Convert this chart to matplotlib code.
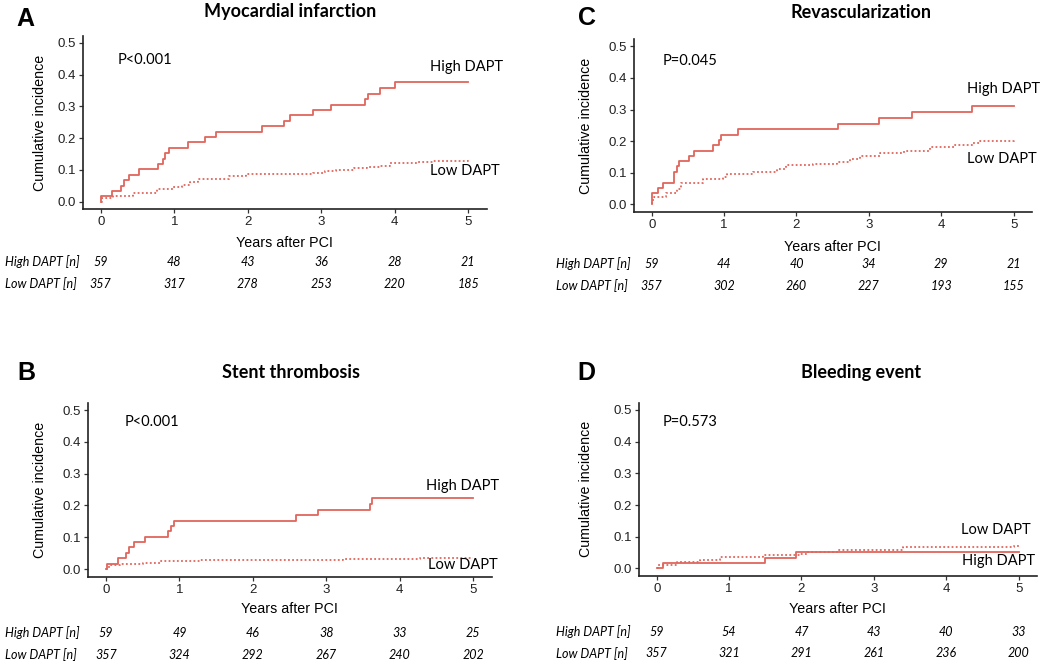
import matplotlib
matplotlib.use("Agg")
import matplotlib.pyplot as plt
from matplotlib.transforms import blended_transform_factory

# ---------------- data ----------------
titles = ["Myocardial infarction", "Revascularization", "Stent thrombosis", "Bleeding event"]
letters = ["A", "C", "B", "D"]
pvalues = ["P<0.001", "P=0.045", "P<0.001", "P=0.573"]
years_ticks = [0, 1, 2, 3, 4, 5]
yticks = [0.0, 0.1, 0.2, 0.3, 0.4, 0.5]

# A: Myocardial infarction
hiA_t = [0, 0.01, 0.16, 0.27, 0.31, 0.38, 0.52, 0.78, 0.85, 0.88, 0.93, 1.19, 1.42, 1.57,
         2.19, 2.49, 2.57, 2.89, 3.13, 3.60, 3.63, 3.80, 4.00, 5.0]
hiA_y = [0, 0.017, 0.034, 0.050, 0.068, 0.085, 0.102, 0.120, 0.136, 0.153, 0.170, 0.187, 0.204, 0.221,
         0.238, 0.255, 0.272, 0.289, 0.306, 0.323, 0.340, 0.357, 0.378, 0.378]
loA_t = [0, 0.02, 0.17, 0.44, 0.76, 0.98, 1.10, 1.21, 1.32, 1.75, 1.98, 2.89, 3.05, 3.20, 3.45,
         3.62, 3.80, 3.93, 4.30, 4.52, 5.0]
loA_y = [0, 0.012, 0.019, 0.028, 0.039, 0.046, 0.052, 0.062, 0.072, 0.080, 0.088, 0.091, 0.096, 0.101, 0.106,
         0.110, 0.114, 0.121, 0.124, 0.129, 0.131]

# C: Revascularization
hiC_t = [0, 0.01, 0.09, 0.16, 0.31, 0.35, 0.38, 0.52, 0.59, 0.84, 0.93, 0.96, 1.19, 2.58, 3.14, 3.60, 4.42, 5.0]
hiC_y = [0, 0.036, 0.051, 0.069, 0.102, 0.120, 0.136, 0.153, 0.170, 0.187, 0.204, 0.220, 0.237,
         0.254, 0.273, 0.291, 0.312, 0.312]
loC_t = [0, 0.01, 0.03, 0.20, 0.35, 0.41, 0.71, 0.99, 1.04, 1.40, 1.73, 1.86, 2.23, 2.56, 2.74, 2.88,
         3.15, 3.48, 3.84, 4.17, 4.44, 4.53, 5.0]
loC_y = [0, 0.015, 0.025, 0.036, 0.050, 0.069, 0.080, 0.088, 0.095, 0.104, 0.111, 0.124, 0.127, 0.135,
         0.143, 0.153, 0.162, 0.170, 0.183, 0.187, 0.193, 0.199, 0.204]

# B: Stent thrombosis
hiB_t = [0, 0.01, 0.16, 0.27, 0.31, 0.38, 0.53, 0.85, 0.88, 0.93, 2.58, 2.89, 3.60, 3.62, 5.0]
hiB_y = [0, 0.017, 0.034, 0.051, 0.068, 0.085, 0.102, 0.119, 0.136, 0.152, 0.170, 0.187, 0.205, 0.223, 0.223]
loB_t = [0, 0.01, 0.04, 0.19, 0.51, 0.74, 1.28, 3.23, 4.27, 5.0]
loB_y = [0, 0.004, 0.012, 0.017, 0.020, 0.025, 0.028, 0.031, 0.034, 0.034]

# D: Bleeding event
hiD_t = [0, 0.09, 1.50, 1.92, 5.0]
hiD_y = [0, 0.017, 0.034, 0.051, 0.051]
loD_t = [0, 0.02, 0.28, 0.60, 0.87, 1.47, 1.98, 2.07, 2.49, 3.40, 4.93, 5.0]
loD_y = [0, 0.010, 0.020, 0.025, 0.036, 0.041, 0.044, 0.051, 0.057, 0.067, 0.072, 0.072]

# numbers at risk
riskA_high = [59, 48, 43, 36, 28, 21]
riskA_low = [357, 317, 278, 253, 220, 185]
riskC_high = [59, 44, 40, 34, 29, 21]
riskC_low = [357, 302, 260, 227, 193, 155]
riskB_high = [59, 49, 46, 38, 33, 25]
riskB_low = [357, 324, 292, 267, 240, 202]
riskD_high = [59, 54, 47, 43, 40, 33]
riskD_low = [357, 321, 291, 261, 236, 200]

# ---------------- layout ----------------
W, H = 1050, 666
fig = plt.figure(figsize=(W / 100, H / 100), dpi=100)
RED = "#E0665C"
SANS = ["Liberation Sans", "DejaVu Sans"]
CAL = ["Lato", "DejaVu Sans"]

panels = [
    dict(rect=(82.7, 35.7, 486.7, 209.3), hi=(hiA_t, hiA_y), lo=(loA_t, loA_y),
         risk=(riskA_high, riskA_low), title_xy=(290, 12), letter_xy=(25, 19),
         ylab_x=40, xlab_y=243, risk_y=(262, 284), risk_lab_x=5,
         p_xy=(0.23, 0.447), hi_lab=(4.48, 0.425), lo_lab=(4.48, 0.097)),
    dict(rect=(634, 39, 1031.7, 212), hi=(hiC_t, hiC_y), lo=(loC_t, loC_y),
         risk=(riskC_high, riskC_low), title_xy=(860.7, 12), letter_xy=(586.7, 18),
         ylab_x=585.7, xlab_y=247, risk_y=(264, 286), risk_lab_x=555.7,
         p_xy=(0.15, 0.454), hi_lab=(4.35, 0.364), lo_lab=(4.35, 0.143)),
    dict(rect=(88, 402.7, 491.7, 576.7), hi=(hiB_t, hiB_y), lo=(loB_t, loB_y),
         risk=(riskB_high, riskB_low), title_xy=(291, 372.7), letter_xy=(26, 373),
         ylab_x=40, xlab_y=609, risk_y=(632.7, 655), risk_lab_x=5,
         p_xy=(0.25, 0.463), hi_lab=(4.35, 0.26), lo_lab=(4.38, 0.012)),
    dict(rect=(639, 402.7, 1036.7, 576), hi=(hiD_t, hiD_y), lo=(loD_t, loD_y),
         risk=(riskD_high, riskD_low), title_xy=(861.3, 372.7), letter_xy=(586.7, 373),
         ylab_x=585.7, xlab_y=609, risk_y=(631.7, 653.3), risk_lab_x=555.7,
         p_xy=(0.083, 0.463), hi_lab=(4.22, 0.022), lo_lab=(4.2, 0.122)),
]


def fx(px):
    return px / W


def fy(py):
    return 1 - py / H


for i, p in enumerate(panels):
    l, t, r, b = p["rect"]
    ax = fig.add_axes([fx(l), fy(b), (r - l) / W, (b - t) / H])
    ax.step(p["hi"][0], p["hi"][1], where="post", color=RED, lw=1.3)
    ax.step(p["lo"][0], p["lo"][1], where="post", color=RED, lw=1.3,
            linestyle=(0, (1.0, 1.3)))
    ax.set_xlim(-0.245, 5.25)
    ax.set_ylim(-0.024, 0.523)
    ax.set_xticks(years_ticks)
    ax.set_yticks(yticks)
    ax.set_xticklabels([str(v) for v in years_ticks], fontfamily=SANS, fontsize=9.5, color="#222222")
    ax.set_yticklabels([f"{v:.1f}" for v in yticks], fontfamily=SANS, fontsize=9.5, color="#222222")
    ax.tick_params(length=3, width=0.9, color="#333333", pad=2)
    for s in ("top", "right"):
        ax.spines[s].set_visible(False)
    for s in ("left", "bottom"):
        ax.spines[s].set_linewidth(1.2)
        ax.spines[s].set_color("#222222")
    ax.text(p["p_xy"][0], p["p_xy"][1], pvalues[i], fontfamily=CAL, fontsize=10.5,
            va="center", ha="left")
    ax.text(p["hi_lab"][0], p["hi_lab"][1], "High DAPT", fontfamily=CAL, fontsize=10.5,
            va="center", ha="left")
    ax.text(p["lo_lab"][0], p["lo_lab"][1], "Low DAPT", fontfamily=CAL, fontsize=10.5,
            va="center", ha="left")

    # titles and letters
    fig.text(fx(p["title_xy"][0]), fy(p["title_xy"][1]), titles[i], fontfamily=CAL,
             fontweight="bold", fontsize=13, ha="center", va="center")
    fig.text(fx(p["letter_xy"][0]), fy(p["letter_xy"][1]), letters[i], fontfamily=SANS,
             fontweight="bold", fontsize=18, ha="center", va="center")
    # axis labels
    fig.text(fx(p["ylab_x"]), fy((t + b) / 2), "Cumulative incidence", fontfamily=SANS,
             fontsize=10.3, rotation=90, ha="center", va="center")
    fig.text(fx((l + r) / 2), fy(p["xlab_y"]), "Years after PCI", fontfamily=SANS,
             fontsize=10.3, ha="center", va="center")
    # risk table
    tr = blended_transform_factory(ax.transData, fig.transFigure)
    hi_n, lo_n = p["risk"]
    for xv, nh, nl in zip(years_ticks, hi_n, lo_n):
        ax.text(xv, fy(p["risk_y"][0]), str(nh), transform=tr, fontfamily=CAL,
                fontstyle="italic", fontsize=9, ha="center", va="center", clip_on=False)
        ax.text(xv, fy(p["risk_y"][1]), str(nl), transform=tr, fontfamily=CAL,
                fontstyle="italic", fontsize=9, ha="center", va="center", clip_on=False)
    fig.text(fx(p["risk_lab_x"]), fy(p["risk_y"][0]), "High DAPT [n]", fontfamily=CAL,
             fontstyle="italic", fontsize=9, ha="left", va="center")
    fig.text(fx(p["risk_lab_x"]), fy(p["risk_y"][1]), "Low DAPT [n]", fontfamily=CAL,
             fontstyle="italic", fontsize=9, ha="left", va="center")

fig.savefig("out.png", dpi=100)
